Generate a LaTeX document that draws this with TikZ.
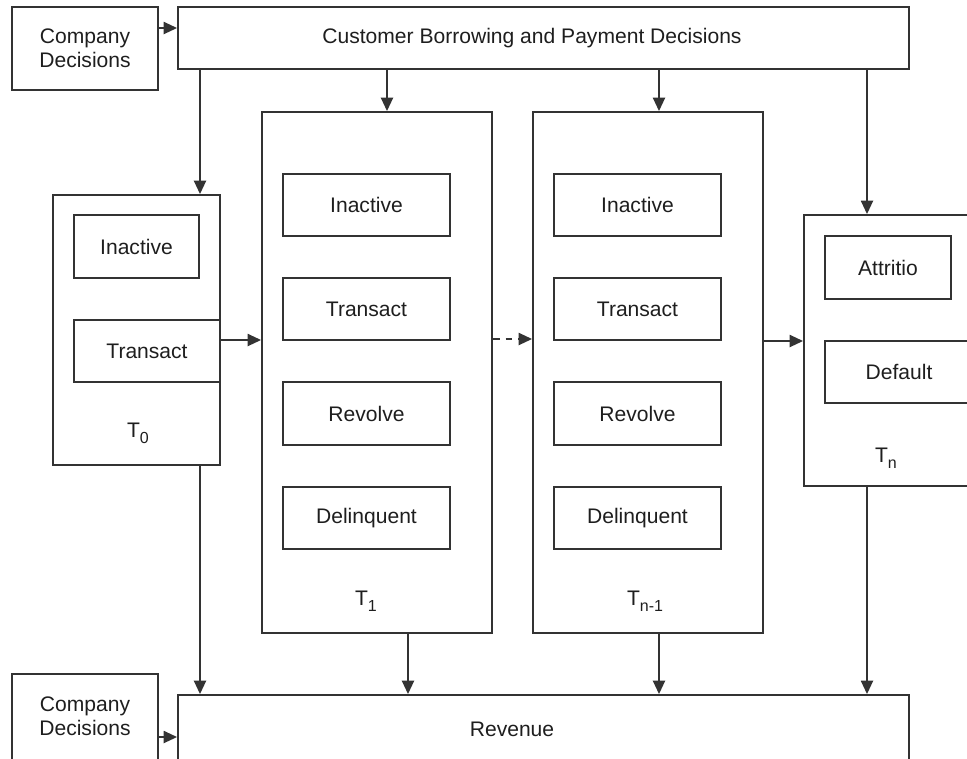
\documentclass[tikz,border=0pt]{standalone}
\usepackage{fontspec}
\setmainfont{Liberation Sans}
\usetikzlibrary{arrows.meta}
\definecolor{lc}{HTML}{333333}
\definecolor{tc}{HTML}{1E1E1E}
\newcommand\fs{\fontsize{15.8}{18}\selectfont}
\newcommand\sbs[1]{\raisebox{-0.55ex}{\fontsize{12}{12}\selectfont #1}}
\newcommand\bx[6]{\node[box,minimum width=#4*0.75pt,minimum height=#5*0.75pt] (#1) at (#2,#3) {#6};}
\begin{document}
\begin{tikzpicture}[x=0.75pt,y=-0.75pt,
  box/.style={draw=lc, line width=1.4pt, inner sep=0pt, align=center, font=\fs, text=tc},
  arr/.style={draw=lc, line width=1.4pt, -{Triangle[length=10pt,width=9pt]}},
  darr/.style={arr, dash pattern=on 5pt off 4.5pt},
  lab/.style={font=\fs, text=tc, inner sep=0pt, align=center}]
\clip (0,0) rectangle (967,758);
% outer boxes
\bx{cdtop}{85}{48.5}{146}{83}{Company\\Decisions}
\bx{cb}{543.5}{38}{731}{62}{}
\node[lab] (cbt) at (532,38) {Customer Borrowing and Payment Decisions};
\bx{tz}{136.5}{330}{167}{270}{}
\bx{tone}{377}{372.5}{230}{521}{}
\bx{tnm}{648}{372.5}{230}{521}{}
\bx{tn}{897}{350.5}{186}{271}{}
\bx{rev}{543.5}{740}{731}{90}{}
\node[lab] (revt) at (512,729) {Revenue};
\bx{cdbot}{85}{730}{146}{112}{}
\node[lab] (cdbt) at (85,716) {Company\\Decisions};
% T0 content
\bx{tzi}{136.5}{246.5}{125}{63}{Inactive}
\bx{tzt}{147}{351}{146}{62}{Transact}
\node[lab] (tzl) at (138,433) {T\sbs{0}};
% T1 content
\bx{toi}{366.5}{205}{167}{62}{Inactive}
\bx{tot}{366.5}{309}{167}{62}{Transact}
\bx{tor}{366.5}{413.5}{167}{63}{Revolve}
\bx{tod}{366.5}{518}{167}{62}{Delinquent}
\node[lab] (tol) at (366,601) {T\sbs{1}};
% Tn-1 content
\bx{tmi}{637.5}{205}{167}{62}{Inactive}
\bx{tmt}{637.5}{309}{167}{62}{Transact}
\bx{tmr}{637.5}{413.5}{167}{63}{Revolve}
\bx{tmd}{637.5}{518}{167}{62}{Delinquent}
\node[lab] (tml) at (645,601) {T\sbs{n-1}};
% Tn content
\bx{tna}{888}{267.5}{126}{63}{Attritio}
\bx{tnd}{899}{372}{148}{62}{Default}
\node[lab] (tnl) at (886,458) {T\sbs{n}};
% helper coordinates
\coordinate (xa) at (200,0);
\coordinate (xb) at (387,0);
\coordinate (xc) at (408,0);
\coordinate (xd) at (659,0);
\coordinate (xe) at (867,0);
\coordinate (ya) at (0,28);
\coordinate (yb) at (0,340);
\coordinate (yc) at (0,339);
\coordinate (yd) at (0,341);
\coordinate (ye) at (0,737);
% connectors
\draw[arr] (cdtop.east |- ya) -- (cb.west |- ya);
\draw[arr] (cdbot.east |- ye) -- (rev.west |- ye);
\draw[arr] (cb.south -| xa) -- (tz.north -| xa);
\draw[arr] (cb.south -| xb) -- (tone.north -| xb);
\draw[arr] (cb.south -| xd) -- (tnm.north -| xd);
\draw[arr] (cb.south -| xe) -- (tn.north -| xe);
\draw[arr] (tz.south -| xa) -- (rev.north -| xa);
\draw[arr] (tone.south -| xc) -- (rev.north -| xc);
\draw[arr] (tnm.south -| xd) -- (rev.north -| xd);
\draw[arr] (tn.south -| xe) -- (rev.north -| xe);
\draw[arr] (tzt.east |- yb) -- (tone.west |- yb);
\draw[darr] (tone.east |- yc) -- (tnm.west |- yc);
\draw[arr] (tnm.east |- yd) -- (tn.west |- yd);
\end{tikzpicture}
\end{document}
